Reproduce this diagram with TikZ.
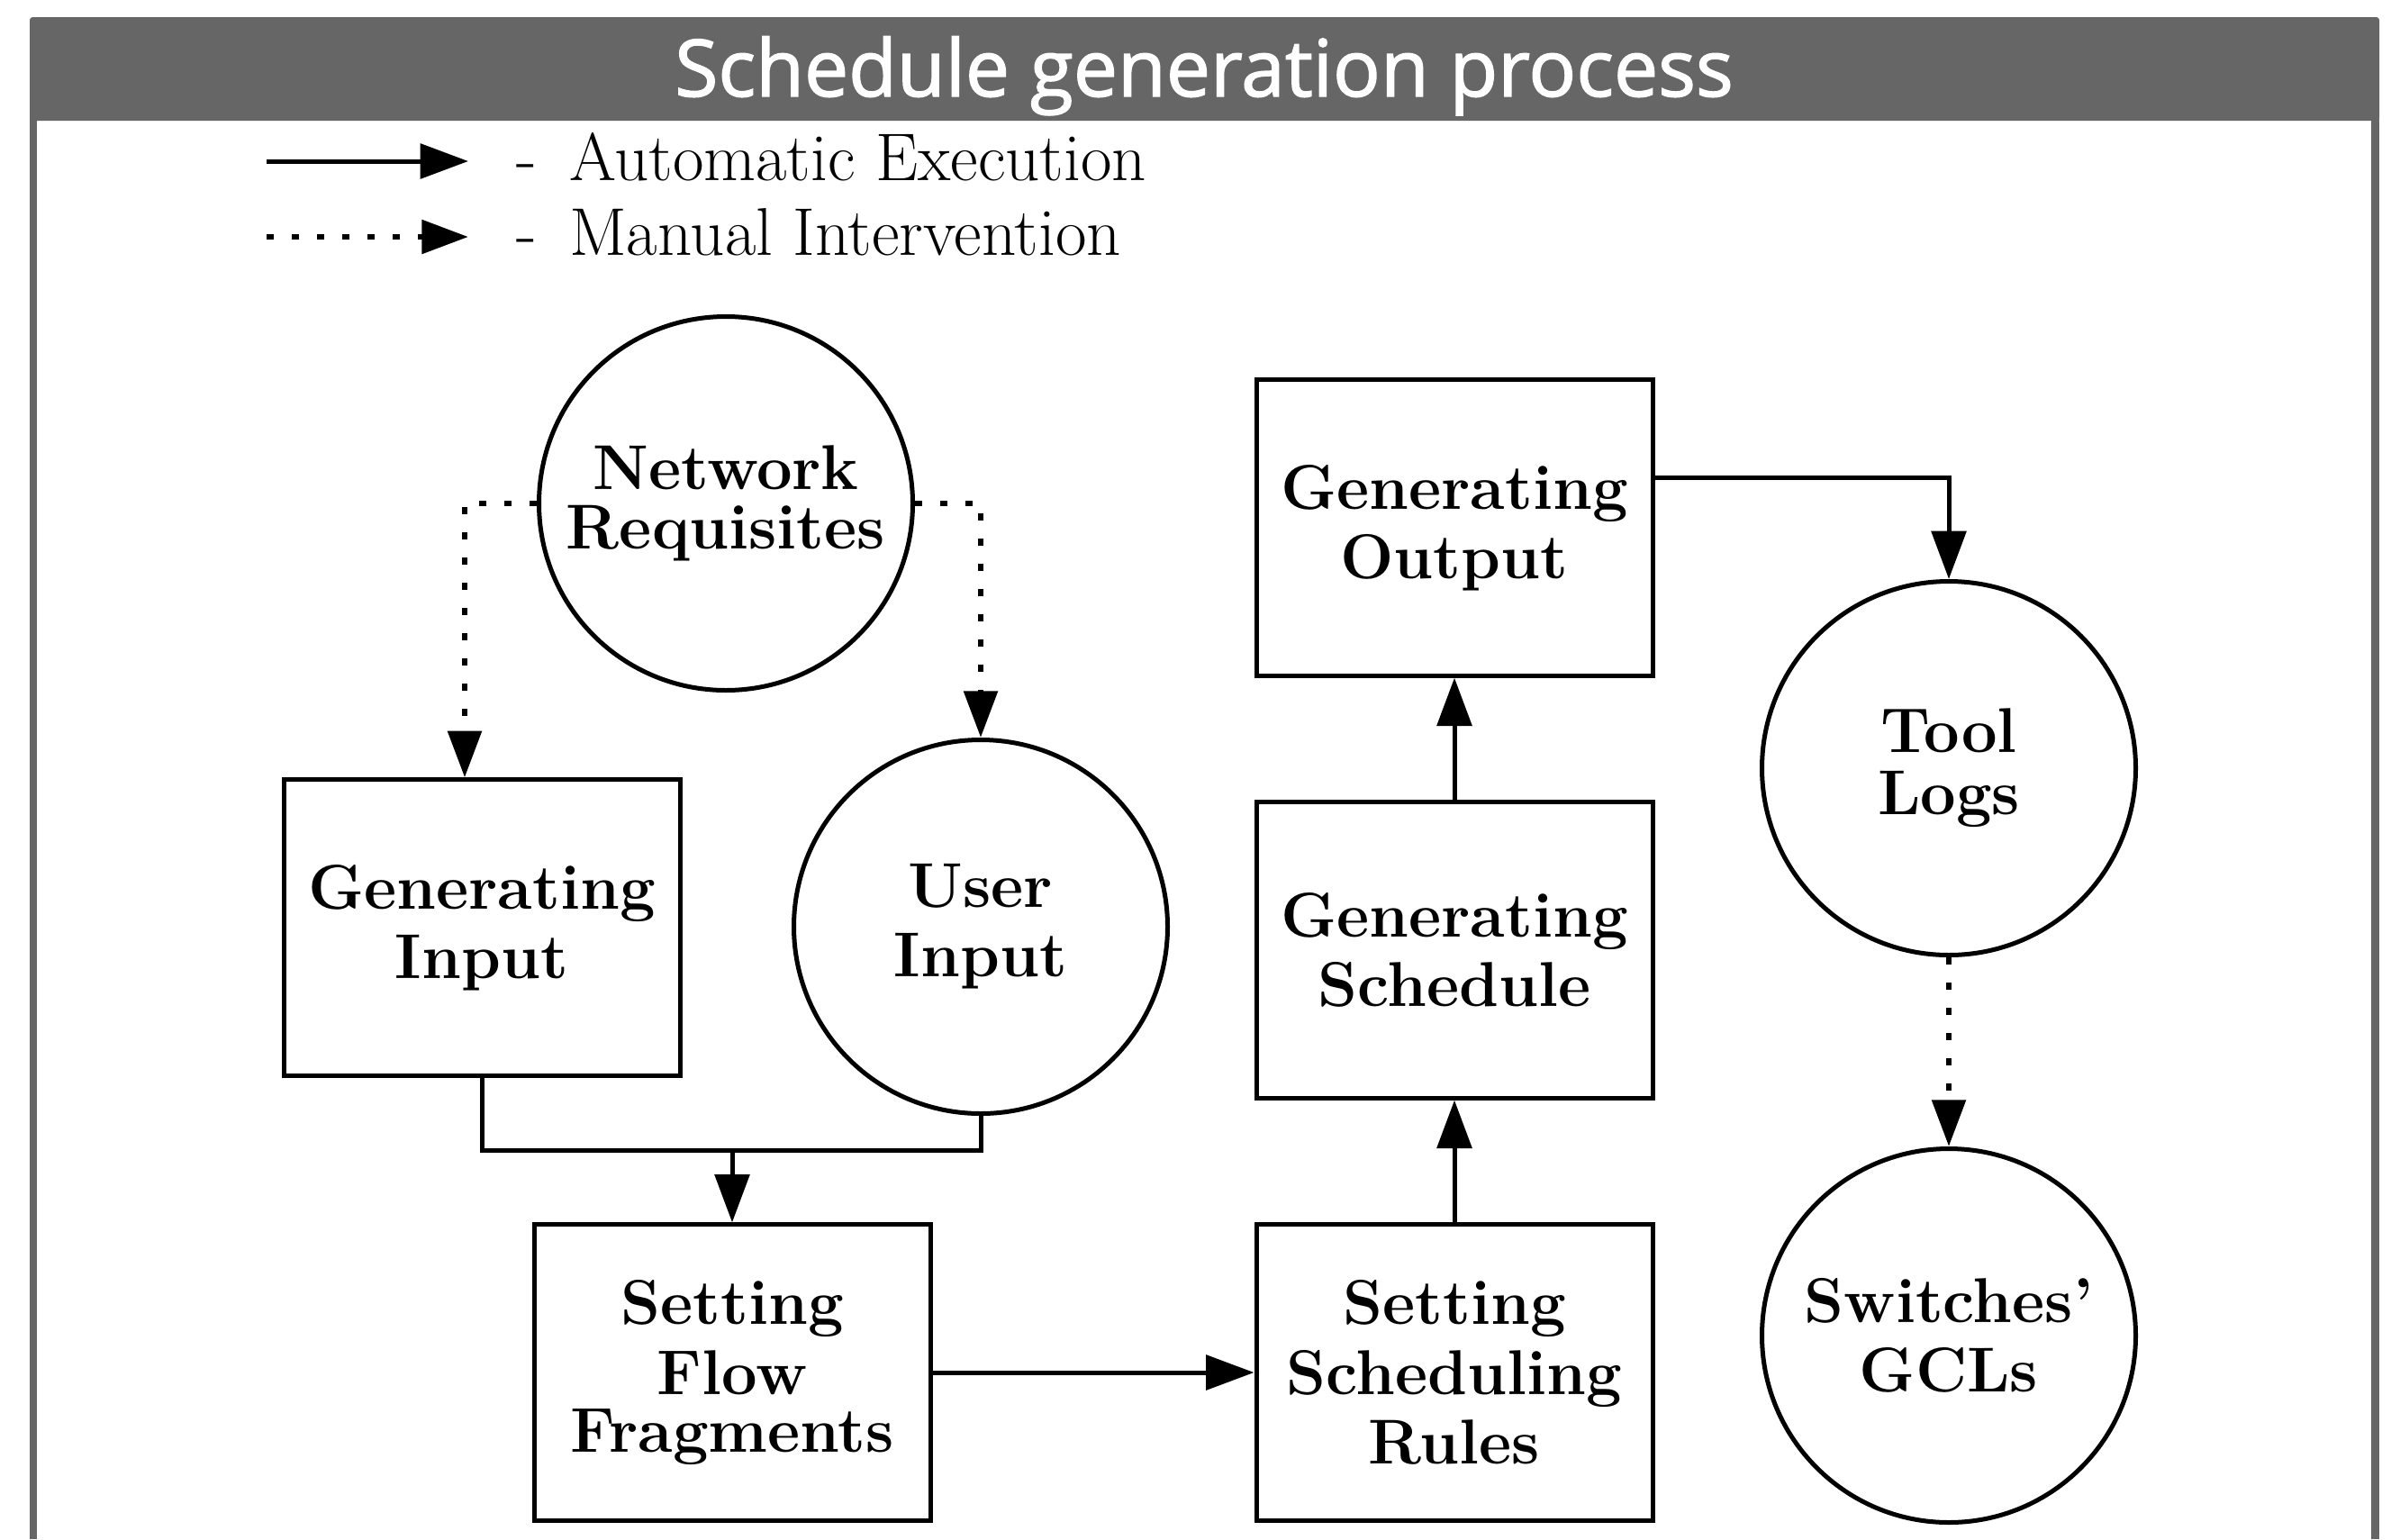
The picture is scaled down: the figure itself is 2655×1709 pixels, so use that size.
\documentclass[tikz,border=0pt]{standalone}
\usepackage{fontspec}
\newfontfamily\titlefont[FakeBold=1.6]{Open Sans}
\usetikzlibrary{arrows.meta,calc}
\definecolor{barcol}{HTML}{666666}
\begin{document}
\begin{tikzpicture}[x=0.3pt,y=-0.3pt,
  nodefont/.style={font=\fontsize{21.1}{23.2}\selectfont\bfseries},
  box/.style={draw, line width=1.5pt, minimum width=132pt, minimum height=98.5pt, inner sep=0pt, align=center, nodefont},
  circ/.style={draw, circle, line width=1.5pt, minimum size=124.5pt, inner sep=0pt, align=center, nodefont},
  autoline/.style={line width=1.5pt, -{Triangle[length=16pt,width=11.5pt]}},
  manualline/.style={line width=2pt, dash pattern=on 2.4pt off 6pt, -{Triangle[length=15.5pt,width=11pt]}},
  plainline/.style={line width=1.5pt},
  legtext/.style={anchor=base west, inner sep=0pt, font=\fontsize{22.5}{25}\selectfont},
]
\useasboundingbox (0,0) rectangle (2655,1709);
% frame
\fill[barcol, rounded corners=1pt] (33,19) rectangle (2642,134);
\fill[barcol] (33,130) rectangle (41,1709);
\fill[barcol] (2633,130) rectangle (2642,1709);
\node[text=white, anchor=base, inner sep=0pt, font=\titlefont\fontsize{26.3}{30}\selectfont] (title) at (1337,107) {Schedule generation process};

% legend
\coordinate (la1) at (296,179); \coordinate (la2) at (520,179);
\coordinate (lb1) at (296,263); \coordinate (lb2) at (520,263);
\draw[autoline] (la1) -- (la2);
\draw[manualline] (lb1) -- (lb2);
\node[legtext] (lega) at (573,200) {-\hspace{4pt} Automatic Execution};
\node[legtext] (legb) at (573,283) {-\hspace{4pt} Manual Intervention};

% nodes
\node[circ] (net) at (806,559) {Network\\[-3.5pt]Requisites};
\node[box] (genin) at (535,1030) {Generating\\Input};
\node[circ] (user) at (1089,1029) {User\\Input};
\node[box] (flow) at (813,1524) {Setting\\Flow\\[-4pt]Fragments};
\node[box] (rules) at (1615,1524) {Setting\\Scheduling\\Rules};
\node[box] (sched) at (1615,1055) {Generating\\Schedule};
\node[box] (out) at (1615,586) {Generating\\Output};
\node[circ] (logs) at (2164,853) {Tool\\[-2.5pt]Logs};
\node[circ] (gcl) at (2164,1483) {Switches'\\GCLs};

% connectors
\draw[manualline] (net.west) -| ([xshift=-5.7pt]genin.north);
\draw[manualline] (net.east) -| (user.north);
\coordinate (bend) at (1089,1277);
\draw[plainline] (genin.south) |- (bend) -- (user.south);
\draw[autoline] (flow.north |- bend) -- (flow.north);
\draw[autoline] (flow.east) -- (rules.west);
\draw[autoline] (rules.north) -- (sched.south);
\draw[autoline] (sched.north) -- (out.south);
\draw[autoline] ([yshift=16.8pt]out.east) -| (logs.north);
\draw[manualline] (logs.south) -- (gcl.north);
\end{tikzpicture}
\end{document}
